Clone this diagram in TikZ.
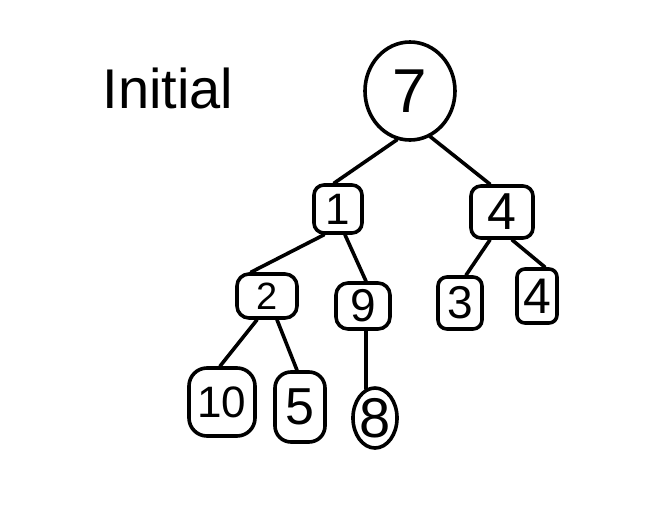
\documentclass[tikz,border=0pt]{standalone}
\usepackage{fontspec}
\setmainfont{Liberation Sans}
\usetikzlibrary{shapes.geometric,calc}
\tikzset{
  pen/.style={line width=3.6pt, line cap=round, line join=round, black},
  blob/.style={pen, draw, rounded corners=#1, inner sep=0pt},
  blob/.default=10pt,
  oval/.style={pen, draw, ellipse, inner sep=0pt},
  link/.style={pen},
  fs/.style={font=\fontsize{#1}{#1}\selectfont}
}
\begin{document}
\begin{tikzpicture}[x=1pt,y=-1pt]
\useasboundingbox[fill=white] (0,0) rectangle (646,512);

% caption
\node[fs=56] (cap) at (168,88) {Initial};

% tree nodes
\node[oval, minimum width=90pt, minimum height=98pt, fs=62] (n7) at (410,91) {7};
\node[blob=10pt, minimum width=48pt, minimum height=48pt, fs=44] (n1) at (338,209) {1};
\node[blob=10pt, minimum width=62pt, minimum height=52pt, fs=52] (n4a) at (502,212) {4};
\node[blob=12pt, minimum width=60pt, minimum height=44pt, fs=38] (n2) at (267,296) {2};
\node[blob=12pt, minimum width=54pt, minimum height=46pt, fs=46] (n9) at (363,306) {9};
\node[blob=9pt, minimum width=44pt, minimum height=52pt, fs=46] (n3) at (460,303) {3};
\node[blob=8pt, minimum width=40pt, minimum height=54pt, fs=50] (n4b) at (537,296) {4};
\node[blob=18pt, minimum width=66pt, minimum height=68pt, fs=44] (n10) at (222,402) {10};
\node[blob=16pt, minimum width=50pt, minimum height=70pt, fs=52] (n5) at (300,407) {5};
\node[oval, minimum width=44pt, minimum height=60pt, fs=56] (n8) at (375,418) {8};

% edges
\draw[link] (n7.255) -- ($(n1.north)+(-4,0)$);
\draw[link] (n7.294) -- ($(n4a.north)+(-12,0)$);
\draw[link] ($(n1.south)+(-14,0)$) -- ($(n2.north)+(-16,0)$);
\draw[link] ($(n1.south)+(7,0)$) -- ($(n9.north)+(3,0)$);
\draw[link] ($(n4a.south)+(-12,0)$) -- ($(n3.north)+(6,0)$);
\draw[link] ($(n4a.south)+(10,0)$) -- ($(n4b.north)+(8,0)$);
\draw[link] ($(n2.south)+(-10,0)$) -- ($(n10.north)+(-2,0)$);
\draw[link] ($(n2.south)+(10,0)$) -- ($(n5.north)+(-3,0)$);
\draw[link] ($(n9.south)+(3,0)$) -- ($(n8.north)+(-9,2.5)$);
\end{tikzpicture}
\end{document}
